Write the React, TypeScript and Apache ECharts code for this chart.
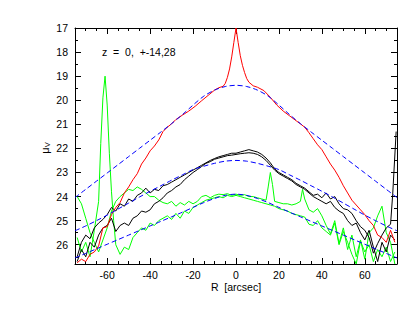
import React, { useEffect, useRef } from "react";
import * as echarts from "echarts";

// ---------- tick labels ----------
const X_MAJOR = [-60, -40, -20, 0, 20, 40, 60];
const Y_MAJOR = [17, 18, 19, 20, 21, 22, 23, 24, 25, 26];

// ---------- red profile (z = 0) ----------
const RED_X = [-74,-72,-70,-68,-66,-64,-62,-60,-58,-56,-54,-52,-50,-48,-46,-44,-42,-40,-38,-36,-34,-32,-30,-28,-25,-22,-19,-16,-13,-10,-8,-6,-5,-4,-3,-2,-1,0,1,2,3,4,5,6,8,10,13,16,19,22,25,28,30,32,34,36,38,40,42,44,46,48,50,52,54,56,58,60,62,64,66,68,70,72,74];
const RED_Y = [26.75,26.6,26.7,26.4,26.3,26.05,25.3,25.25,24.75,24.45,24.25,23.85,23.6,23.3,23.05,22.65,22.4,22.1,21.9,21.65,21.3,21.12,20.98,20.8,20.62,20.45,20.25,20.02,19.8,19.58,19.48,19.42,19.3,19.05,18.7,18.2,17.6,17.0,17.6,18.15,18.55,18.85,19.1,19.25,19.4,19.46,19.6,19.88,20.2,20.45,20.65,20.85,20.98,21.12,21.35,21.6,21.85,22.05,22.35,22.65,22.9,23.2,23.55,23.85,24.15,24.35,24.55,24.75,25.0,25.2,25.6,25.7,25.9,25.4,25.9];

// ---------- black profiles (z = +-14) ----------
const BLACK1_X = [-74,-72,-70,-68,-66,-64,-62,-60,-58,-56,-54,-52,-50,-48,-46,-44,-42,-40,-38,-36,-34,-32,-30,-28,-26,-24,-22,-20,-18,-16,-14,-12,-10,-8,-6,-4,-2,0,2,4,6,8,10,12,14,16,18,20,22,24,26,28,30,32,34,36,38,40,42,44,46,48,50,52,54,56,58,60,62,64,66,68,70,72,73,74.6];
const BLACK1_Y = [26.5,25.9,25.6,25.75,25.3,25.1,24.95,24.75,24.45,24.6,24.3,24.4,24.1,24.2,23.95,23.85,23.65,23.85,23.7,23.75,23.55,23.5,23.4,23.3,23.2,23.1,23.0,22.9,22.8,22.7,22.6,22.5,22.42,22.35,22.3,22.25,22.2,22.2,22.15,22.1,22.05,22.1,22.15,22.25,22.4,22.6,22.85,23.0,23.1,23.2,23.3,23.45,23.55,23.65,23.8,23.95,23.9,24.05,23.85,24.1,24.0,24.3,24.5,24.55,24.7,25.0,25.25,25.4,25.7,26.35,25.95,25.6,25.3,25.15,23.9,21.3];
const BLACK2_X = [-74,-72,-70,-68,-66,-64,-62,-60,-58,-56,-54,-52,-50,-48,-46,-44,-42,-40,-38,-36,-34,-32,-30,-28,-26,-24,-22,-20,-18,-16,-14,-12,-10,-8,-6,-4,-2,0,2,4,6,8,10,12,14,16,18,20,22,24,26,28,30,32,34,36,38,40,42,44,46,48,50,52,54,56,58,60,62,64,66,68,70,72,74];
const BLACK2_Y = [26.7,26.2,26.5,25.9,26.1,25.6,25.3,25.2,24.9,25.45,25.2,25.1,25.2,24.9,24.8,24.6,24.65,24.55,24.3,24.2,24.05,23.85,23.75,23.6,23.5,23.3,23.15,23.0,22.88,22.75,22.62,22.55,22.45,22.4,22.35,22.3,22.28,22.25,22.22,22.2,22.18,22.2,22.25,22.35,22.5,22.7,22.9,23.05,23.15,23.25,23.35,23.5,23.6,23.7,23.85,24.0,24.1,24.2,24.3,24.2,24.45,24.6,24.7,25.0,25.2,25.1,25.5,25.8,25.4,26.1,26.7,25.9,26.3,25.6,25.8];

// ---------- green profiles (z = +-28) ----------
const GREEN1_X = [-74,-72,-70,-68,-66,-64,-62,-60,-58,-56,-54,-52,-50,-48,-46,-44,-42,-40,-38,-36,-34,-32,-30,-28,-26,-24,-22,-20,-18,-16,-14,-12,-10,-8,-6,-4,-2,0,2,4,6,8,10,12,14,15,16,17,18,20,22,24,26,28,30,31,32,34,36,38,40,42,44,46,48,50,52,54,56,58,60,62,64,66,68,70,72,74];
const GREEN1_Y = [24.0,24.3,24.9,25.5,25.9,26.3,25.8,25.3,24.6,24.2,24.0,23.85,23.7,23.75,23.6,23.7,23.85,24.0,24.0,24.15,24.25,24.3,24.2,24.4,24.25,24.35,24.2,24.3,24.2,24.0,23.95,24.05,23.95,23.9,23.92,23.88,23.95,23.9,23.95,23.92,24.0,24.0,24.05,24.1,24.15,23.6,23.0,23.5,24.2,24.25,24.3,24.3,24.35,24.3,24.2,23.7,24.1,24.55,24.65,24.5,24.8,25.2,25.55,25.0,25.95,25.3,26.2,25.6,26.5,25.8,26.6,25.5,25.3,24.8,24.4,25.5,25.9,26.8];
const GREEN2_X = [-74,-72,-70,-68,-66,-64,-63,-62,-61,-60,-59,-58,-57,-56,-54,-52,-50,-48,-46,-44,-42,-40,-38,-36,-34,-32,-30,-28,-26,-24,-22,-20,-18,-16,-14,-12,-10,-8,-6,-4,-2,0,2,4,6,8,10,12,14,16,18,20,22,24,26,28,30,32,34,36,38,40,42,44,46,48,50,52,54,56,58,60,62,64,66,68,70,72,74];
const GREEN2_Y = [25.7,26.3,25.9,26.5,25.4,24.2,21.8,19.9,19.0,20.2,22.2,23.8,25.0,26.0,26.4,26.1,26.2,25.7,25.5,25.3,25.4,25.1,25.2,25.0,24.9,24.8,24.95,24.7,24.9,24.6,24.7,24.45,24.35,24.25,24.15,24.1,24.05,24.0,24.05,23.95,24.0,23.95,24.0,24.05,24.1,24.15,24.2,24.25,24.3,24.35,24.4,24.5,24.55,24.6,24.7,24.75,24.8,24.85,25.15,25.2,25.0,25.3,25.45,25.6,25.1,26.0,25.45,25.9,26.4,26.8,25.85,26.3,26.0,26.7,26.2,26.5,26.1,26.7,26.3];

// ---------- blue dashed model profiles ----------
const MODEL_X = [-75,-70,-65,-60,-55,-50,-45,-40,-35,-30,-25,-20,-15,-10,-5,0,5,10,15,20,25,30,35,40,45,50,55,60,65,70,75];
const MODEL1_Y = [24.04,23.7,23.36,23.02,22.68,22.34,22.0,21.66,21.32,20.97,20.6,20.2,19.83,19.58,19.43,19.38,19.43,19.58,19.83,20.2,20.6,20.97,21.32,21.66,22.0,22.34,22.68,23.02,23.36,23.7,24.04];
const MODEL2_Y = [25.42,25.22,25.0,24.77,24.52,24.27,24.02,23.78,23.55,23.32,23.1,22.88,22.74,22.62,22.53,22.5,22.53,22.62,22.74,22.88,23.1,23.32,23.55,23.78,24.02,24.27,24.52,24.77,25.0,25.22,25.42];
const MODEL3_Y = [26.55,26.36,26.17,25.98,25.79,25.6,25.41,25.22,25.03,24.84,24.65,24.45,24.25,24.08,23.95,23.9,23.95,24.08,24.25,24.45,24.65,24.84,25.03,25.22,25.41,25.6,25.79,25.98,26.17,26.36,26.55];

const pairs = (xs: number[], ys: number[]) => xs.map((x, i) => [x, ys[i]]);

const FONT = "'Liberation Sans', Arial, sans-serif";

export default function App() {
  const ref = useRef<HTMLDivElement>(null);

  useEffect(() => {
    const chart = echarts.init(ref.current as HTMLDivElement, null, { renderer: "svg" });
    const black = "#000";
    const lineAxis = { onZero: false, lineStyle: { color: black, width: 1 } };

    const xBase = { type: "value", min: -75, max: 75, splitLine: { show: false } };
    const yBase = { type: "value", min: 17, max: 26.8, inverse: true, splitLine: { show: false } };

    const solid = (data: number[][], color: string) => ({
      type: "line",
      data,
      symbol: "none",
      showSymbol: false,
      lineStyle: { color, width: 1 },
      xAxisIndex: 0,
      yAxisIndex: 0,
      z: 2,
    });
    const dashed = (data: number[][]) => ({
      type: "line",
      data,
      symbol: "none",
      showSymbol: false,
      smooth: 0.3,
      lineStyle: { color: "#0000ff", width: 1, type: [5, 3] },
      xAxisIndex: 0,
      yAxisIndex: 0,
      z: 3,
    });

    chart.setOption({
      animation: false,
      backgroundColor: "#fff",
      textStyle: { fontFamily: FONT },
      grid: { left: 75, right: 12, top: 28, bottom: 52, containLabel: false },
      xAxis: [
        {
          ...xBase,
          position: "bottom",
          axisLine: lineAxis,
          axisTick: { inside: true, length: 6, customValues: X_MAJOR, lineStyle: { color: black } },
          axisLabel: { customValues: X_MAJOR, color: black, fontSize: 10.5, margin: 5, fontFamily: FONT },
        },
        {
          ...xBase,
          position: "bottom",
          interval: 5,
          axisLine: { show: false, onZero: false },
          axisTick: { inside: true, length: 3, lineStyle: { color: black } },
          axisLabel: { show: false },
        },
        {
          ...xBase,
          position: "top",
          axisLine: lineAxis,
          axisTick: { inside: true, length: 6, customValues: X_MAJOR, lineStyle: { color: black } },
          axisLabel: { show: false },
        },
        {
          ...xBase,
          position: "top",
          interval: 5,
          axisLine: { show: false, onZero: false },
          axisTick: { inside: true, length: 3, lineStyle: { color: black } },
          axisLabel: { show: false },
        },
      ],
      yAxis: [
        {
          ...yBase,
          position: "left",
          axisLine: lineAxis,
          axisTick: { inside: true, length: 6, customValues: Y_MAJOR, lineStyle: { color: black } },
          axisLabel: { customValues: Y_MAJOR, color: black, fontSize: 10.5, margin: 7, fontFamily: FONT },
        },
        {
          ...yBase,
          position: "left",
          interval: 0.5,
          axisLine: { show: false, onZero: false },
          axisTick: { inside: true, length: 3, lineStyle: { color: black } },
          axisLabel: { show: false },
        },
        {
          ...yBase,
          position: "right",
          axisLine: lineAxis,
          axisTick: { inside: true, length: 6, customValues: Y_MAJOR, lineStyle: { color: black } },
          axisLabel: { show: false },
        },
        {
          ...yBase,
          position: "right",
          interval: 0.5,
          axisLine: { show: false, onZero: false },
          axisTick: { inside: true, length: 3, lineStyle: { color: black } },
          axisLabel: { show: false },
        },
      ],
      graphic: [
        {
          type: "text",
          left: 102,
          top: 46,
          style: { text: "z  =  0,  +-14,28", fill: black, font: `10.5px ${FONT}` },
        },
        {
          type: "text",
          x: 236,
          y: 287,
          style: {
            text: "R  [arcsec]",
            fill: black,
            font: `10.5px ${FONT}`,
            align: "center",
            verticalAlign: "middle",
          },
        },
        {
          type: "text",
          x: 45,
          y: 148,
          rotation: Math.PI / 2,
          style: {
            text: "{m|μ}{s|V}",
            align: "center",
            verticalAlign: "middle",
            rich: {
              m: { fontSize: 11, fontFamily: FONT, fill: black },
              s: { fontSize: 7.5, fontFamily: FONT, fill: black, verticalAlign: "bottom", padding: [4, 0, 0, 0] },
            },
          },
        },
      ],
      series: [
        solid(pairs(GREEN1_X, GREEN1_Y), "#00ff00"),
        solid(pairs(GREEN2_X, GREEN2_Y), "#00ff00"),
        solid(pairs(BLACK1_X, BLACK1_Y), black),
        solid(pairs(BLACK2_X, BLACK2_Y), black),
        solid(pairs(RED_X, RED_Y), "#ff0000"),
        dashed(pairs(MODEL_X, MODEL1_Y)),
        dashed(pairs(MODEL_X, MODEL2_Y)),
        dashed(pairs(MODEL_X, MODEL3_Y)),
      ],
    });

    return () => chart.dispose();
  }, []);

  return (
    <div
      ref={ref}
      style={{ position: "fixed", left: 0, top: 0, width: 409, height: 316, background: "#fff" }}
    />
  );
}
